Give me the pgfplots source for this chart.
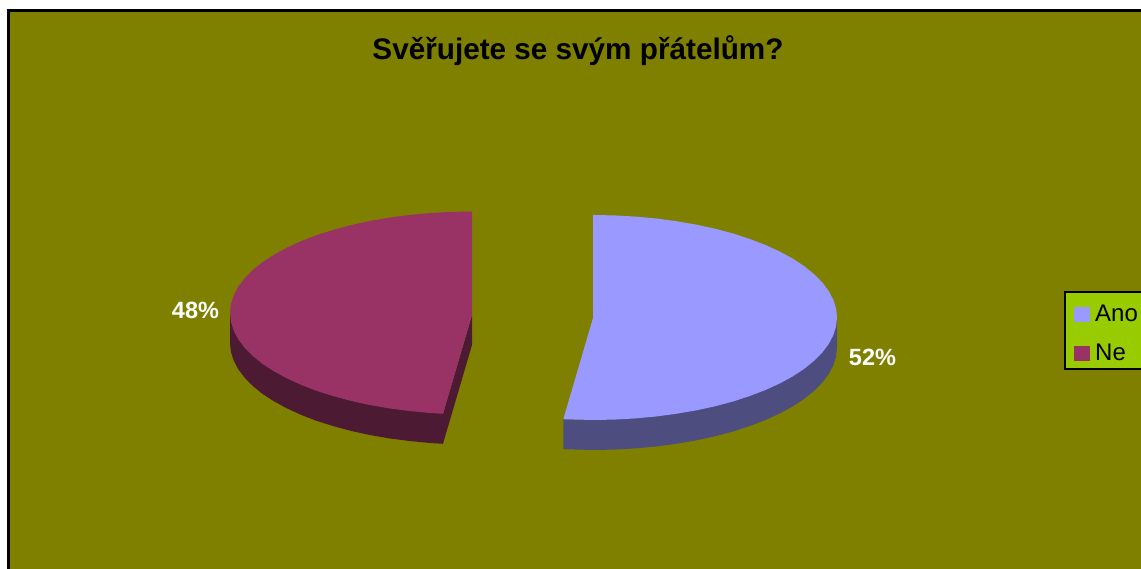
\documentclass[border=0pt]{standalone}
\usepackage{pgfplots}
\pgfplotsset{compat=1.18}
\usepackage{fontspec}
\setmainfont{Liberation Sans}
\definecolor{chartbg}{HTML}{808000}
\definecolor{legendbg}{HTML}{99CC00}
\definecolor{ano}{HTML}{9999FF}
\definecolor{anoside}{HTML}{4D4D80}
\definecolor{ne}{HTML}{993366}
\definecolor{neside}{HTML}{4D1A33}
\begin{document}
\begin{tikzpicture}
\begin{axis}[
  width=1141pt, height=569pt, scale only axis,
  xmin=0, xmax=1141, ymin=0, ymax=569, y dir=reverse,
  hide axis, clip=true,
]
% page and chart area
\addplot[fill=white, draw=none, forget plot] coordinates {(0,0)(1141,0)(1141,569)(0,569)} --cycle;
\addplot[fill=chartbg, draw=black, line width=3pt, forget plot] coordinates {(8,11)(1170,11)(1170,600)(8,600)} --cycle;

% Ne: rim and cut face
\addplot[fill=neside, draw=none, forget plot] coordinates {
  (230,313)(230,343)(230.9,351.85)(233.7,360.6)(238.3,369.3)(244.6,377.7)(252.7,385.9)
  (262.4,393.8)(273.8,401.2)(286.6,408.2)(300.9,414.8)(316.4,420.8)(333.2,426.1)(351,430.9)
  (369.7,435)(389.2,438.4)(409.4,441)(430,443)(443,443.8)(472,345)(472,315)(443,413.8)} --cycle;
% Ne: top
\addplot[fill=ne, draw=none, forget plot] coordinates {
  (472,211.5)(450.9,211.9)(430,213)(409.4,215)(389.2,217.6)(369.7,221)(351,225.1)(333.2,229.9)
  (316.4,235.2)(300.9,241.2)(286.6,247.8)(273.8,254.8)(262.4,262.3)(252.7,270.1)(244.6,278.3)
  (238.3,286.7)(233.7,295.4)(230.9,304.15)(230,313)(230.9,321.85)(233.7,330.6)(238.3,339.3)
  (244.6,347.7)(252.7,355.9)(262.4,363.8)(273.8,371.2)(286.6,378.2)(300.9,384.8)(316.4,390.8)
  (333.2,396.1)(351,400.9)(369.7,405)(389.2,408.4)(409.4,411)(430,413)(443,413.8)(472,315)} --cycle;

% Ano: rim
\addplot[fill=anoside, draw=none, forget plot] coordinates {
  (837,317.5)(837,347.5)(836.1,356.4)(833.3,365.3)(828.7,374)(822.3,382.6)(814.1,390.8)
  (804.3,398.75)(792.9,406.3)(779.9,413.4)(765.5,420)(749.8,426)(733,431.5)(715,436.3)
  (696.1,440.4)(676.4,443.8)(656.1,446.5)(635.4,448.4)(614.3,449.6)(593,450)(563.3,449.2)
  (563.3,419.2)(593,420)} --cycle;
% Ano: top
\addplot[fill=ano, draw=none, forget plot] coordinates {
  (593,215)(614.3,215.4)(635.4,216.6)(656.1,218.5)(676.4,221.2)(696.1,224.6)(715,228.7)
  (733,233.5)(749.8,239)(765.5,245)(779.9,251.6)(792.9,258.7)(804.3,266.25)(814.1,274.2)
  (822.3,282.4)(828.7,291)(833.3,299.7)(836.1,308.6)(837,317.5)(836.1,326.4)(833.3,335.3)
  (828.7,344)(822.3,352.6)(814.1,360.8)(804.3,368.75)(792.9,376.3)(779.9,383.4)(765.5,390)
  (749.8,396)(733,401.5)(715,406.3)(696.1,410.4)(676.4,413.8)(656.1,416.5)(635.4,418.4)
  (614.3,419.6)(593,420)(563.3,419.2)(593,318)} --cycle;

% legend box and swatches
\addplot[fill=legendbg, draw=black, line width=2pt, forget plot] coordinates {(1065,292)(1170,292)(1170,369)(1065,369)} --cycle;
\addplot[fill=ano, draw=none, forget plot] coordinates {(1074,307)(1090,307)(1090,322)(1074,322)} --cycle;
\addplot[fill=ne, draw=none, forget plot] coordinates {(1074,346)(1090,346)(1090,361)(1074,361)} --cycle;

% texts
\node[font=\fontsize{29.7}{30}\selectfont\bfseries, inner sep=0pt] at (axis cs:578,51) {Svěřujete se svým přátelům?};
\node[font=\fontsize{23.5}{24}\selectfont\bfseries, text=white, inner sep=0pt] at (axis cs:195.5,310) {48\%};
\node[font=\fontsize{23.5}{24}\selectfont\bfseries, text=white, inner sep=0pt] at (axis cs:872.5,357) {52\%};
\node[font=\fontsize{24}{24}\selectfont, anchor=base west, inner sep=0pt] at (axis cs:1095,322) {Ano};
\node[font=\fontsize{24}{24}\selectfont, anchor=base west, inner sep=0pt] at (axis cs:1095,360.5) {Ne};
\end{axis}
\end{tikzpicture}
\end{document}
